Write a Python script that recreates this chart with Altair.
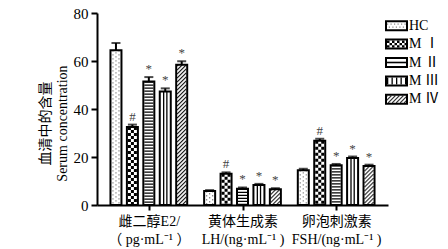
import json
import altair as alt
import pandas as pd

# ---------------- data ----------------
groups = ["E2", "LH", "FSH"]
group_line1 = ["雌二醇E2/", "黄体生成素", "卵泡刺激素"]
group_line2 = ["（ pg·mL⁻¹ ）", "LH/(ng·mL⁻¹ )", "FSH/(ng·mL⁻¹ )"]
series = ["HC", "M Ⅰ", "M Ⅱ", "M Ⅲ", "M Ⅳ"]
e2_values = [64.5, 32.5, 51.5, 47.3, 58.4]
e2_errors = [3.0, 1.0, 1.8, 1.3, 1.5]
lh_values = [5.8, 13.0, 6.8, 8.3, 6.6]
lh_errors = [0.4, 0.6, 0.5, 0.5, 0.4]
fsh_values = [14.5, 26.8, 16.6, 19.6, 16.3]
fsh_errors = [0.6, 0.8, 0.5, 0.6, 0.5]
sig_marks = ["", "#", "*", "*", "*"]
y_ticks = [0, 20, 40, 60, 80]

# ---------------- layout constants ----------------
PITCH = 5.7  # group pitch in bar-steps
FONT = "'Liberation Serif', 'Times New Roman', 'Noto Sans CJK SC', serif"

values = [e2_values, lh_values, fsh_values]
errors = [e2_errors, lh_errors, fsh_errors]
rows = []
for gi, g in enumerate(groups):
    for si, s in enumerate(series):
        v = values[gi][si]
        e = errors[gi][si]
        rows.append(dict(group=g, gi=gi, series=s, si=si, value=v, err=e,
                         top=v + e, zero=0, pos=gi * PITCH + si - 2,
                         mark=sig_marks[si]))
df = pd.DataFrame(rows)

labels = [[a, b] for a, b in zip(group_line1, group_line2)]
label_expr = f"{json.dumps(labels, ensure_ascii=False)}[round(datum.value / {PITCH})]"

x_axis = alt.Axis(values=[gi * PITCH for gi in range(len(groups))], labelExpr=label_expr,
                  title=None, domainWidth=2, tickWidth=2, tickSize=5, labelPadding=4,
                  labelFont=FONT, labelFontSize=14, labelLineHeight=18, labelAngle=0,
                  grid=False, domainColor="black", tickColor="black", labelColor="black")
y_axis = alt.Axis(values=y_ticks, title=["血清中的含量", "Serum concentration"],
                  domainWidth=2, tickWidth=2, tickSize=6, labelPadding=3,
                  labelFont=FONT, labelFontSize=15, titleFont=FONT, titleFontSize=14,
                  titleFontWeight="normal", titleX=-52, titleY=110, titleAngle=-90,
                  titleAlign="center", titleBaseline="middle", titleLineHeight=17,
                  grid=False, domainColor="black", tickColor="black", labelColor="black",
                  titleColor="black")

x_scale = alt.Scale(domain=[-2.85, 2 * PITCH + 2.85], nice=False, zero=False)
y_scale = alt.Scale(domain=[0, 80], nice=False)


def X():
    return alt.X("pos:Q", scale=x_scale, axis=x_axis)


def Y(field):
    return alt.Y(f"{field}:Q", scale=y_scale, axis=y_axis)


base = alt.Chart(df)

layers = []
# white bar bodies
layers.append(base.mark_bar(width=11, fill="white", orient="vertical").encode(
    x=X(), y=Y("value"), y2=alt.Y2("zero:Q")))

# fill patterns: (xOffset, strokeWidth, dash, dashOffset, color)
patterns = {
    0: [(-3, 1.3, [1.3, 2.7], 0, "#8a8a8a"), (0, 1.3, [1.3, 2.7], 2, "#8a8a8a"),
        (3, 1.3, [1.3, 2.7], 0, "#8a8a8a")],
    1: [(-3, 3, [3, 3], 0, "black"), (0, 3, [3, 3], 3, "black"), (3, 3, [3, 3], 0, "black")],
    2: [(0, 9, [1.3, 1.7], 0, "black")],
    3: [(-1.6, 1.3, None, 0, "black"), (1.6, 1.3, None, 0, "black")],
    4: [(k, 1.1, [1.4, 2.6], k + 4, "black") for k in range(-4, 5)],
}
for si, plist in patterns.items():
    for xo, sw, dash, doff, col in plist:
        mk = dict(xOffset=xo, strokeWidth=sw, color=col, strokeCap="butt")
        if dash:
            mk["strokeDash"] = dash
            mk["strokeDashOffset"] = doff
        layers.append(base.transform_filter(alt.datum.si == si).mark_rule(**mk).encode(
            x=X(), y=Y("value"), y2=alt.Y2("zero:Q")))

# outlines
layers.append(base.mark_bar(width=11, fillOpacity=0, stroke="black", strokeWidth=2,
                            orient="vertical").encode(x=X(), y=Y("value"), y2=alt.Y2("zero:Q")))
# error bars
layers.append(base.mark_rule(strokeWidth=2, color="black").encode(
    x=X(), y=Y("value"), y2=alt.Y2("top:Q")))
layers.append(base.mark_tick(orient="horizontal", size=9, thickness=2, color="black").encode(
    x=X(), y=Y("top")))
# significance marks
layers.append(base.mark_text(baseline="bottom", dy=-1, fontSize=13, font=FONT,
                             fill="#444444").encode(x=X(), y=Y("top"), text="mark:N"))

main = alt.layer(*layers)

# ---------------- custom legend ----------------
leg_df = pd.DataFrame({"series": series, "si": list(range(len(series)))})
lbase = alt.Chart(leg_df)
LY = alt.Y("series:N", scale=alt.Scale(type="point", domain=series, range=[12.7, 86.3],
                                       padding=0), axis=None, sort=series)
SW_X0, SW_X1 = 290, 309
box = "M-1,-0.43L1,-0.43L1,0.43L-1,0.43Z"
leg_layers = [lbase.mark_point(shape=box, size=441, filled=True, fill="white", opacity=1,
                               strokeWidth=0).encode(x=alt.value(299.5), y=LY)]
leg_patterns = {
    0: [(-1.5, 1.2, [1.2, 2.3], 0, "#8a8a8a"), (1.5, 1.2, [1.2, 2.3], 1.7, "#8a8a8a")],
    1: [(-2.3, 2.4, [2.5, 2.5], 0, "black"), (0, 2.4, [2.5, 2.5], 2.5, "black"),
        (2.3, 2.4, [2.5, 2.5], 0, "black")],
    2: [(0, 1.6, None, 0, "black")],
    3: [(0, 7, [1.3, 3.2], 0, "black")],
    4: [(k, 1.1, [1.4, 2.6], k + 4, "black") for k in range(-3, 4)],
}
for si, plist in leg_patterns.items():
    for yo, sw, dash, doff, col in plist:
        mk = dict(yOffset=yo, strokeWidth=sw, color=col, strokeCap="butt")
        if dash:
            mk["strokeDash"] = dash
            mk["strokeDashOffset"] = doff
        leg_layers.append(lbase.transform_filter(alt.datum.si == si).mark_rule(**mk).encode(
            x=alt.value(SW_X0), x2=alt.value(SW_X1), y=LY))
leg_layers.append(lbase.mark_point(shape=box, size=441, filled=False, stroke="black",
                                   strokeWidth=2, opacity=1).encode(x=alt.value(299.5), y=LY))
leg_layers.append(lbase.mark_text(align="left", baseline="middle", font=FONT, fontSize=14,
                                  fill="black").encode(x=alt.value(312), y=LY, text="series:N"))
legend = alt.layer(*leg_layers)

chart = alt.layer(main, legend).resolve_scale(y="independent").properties(
    width=291, height=192,
    background="white",
    autosize=alt.AutoSizeParams(type="none"),
    padding={"left": 97, "top": 13, "right": 60, "bottom": 44},
).configure_view(stroke=None)

chart.save("out.html", embed_options={"renderer": "svg", "actions": False})
